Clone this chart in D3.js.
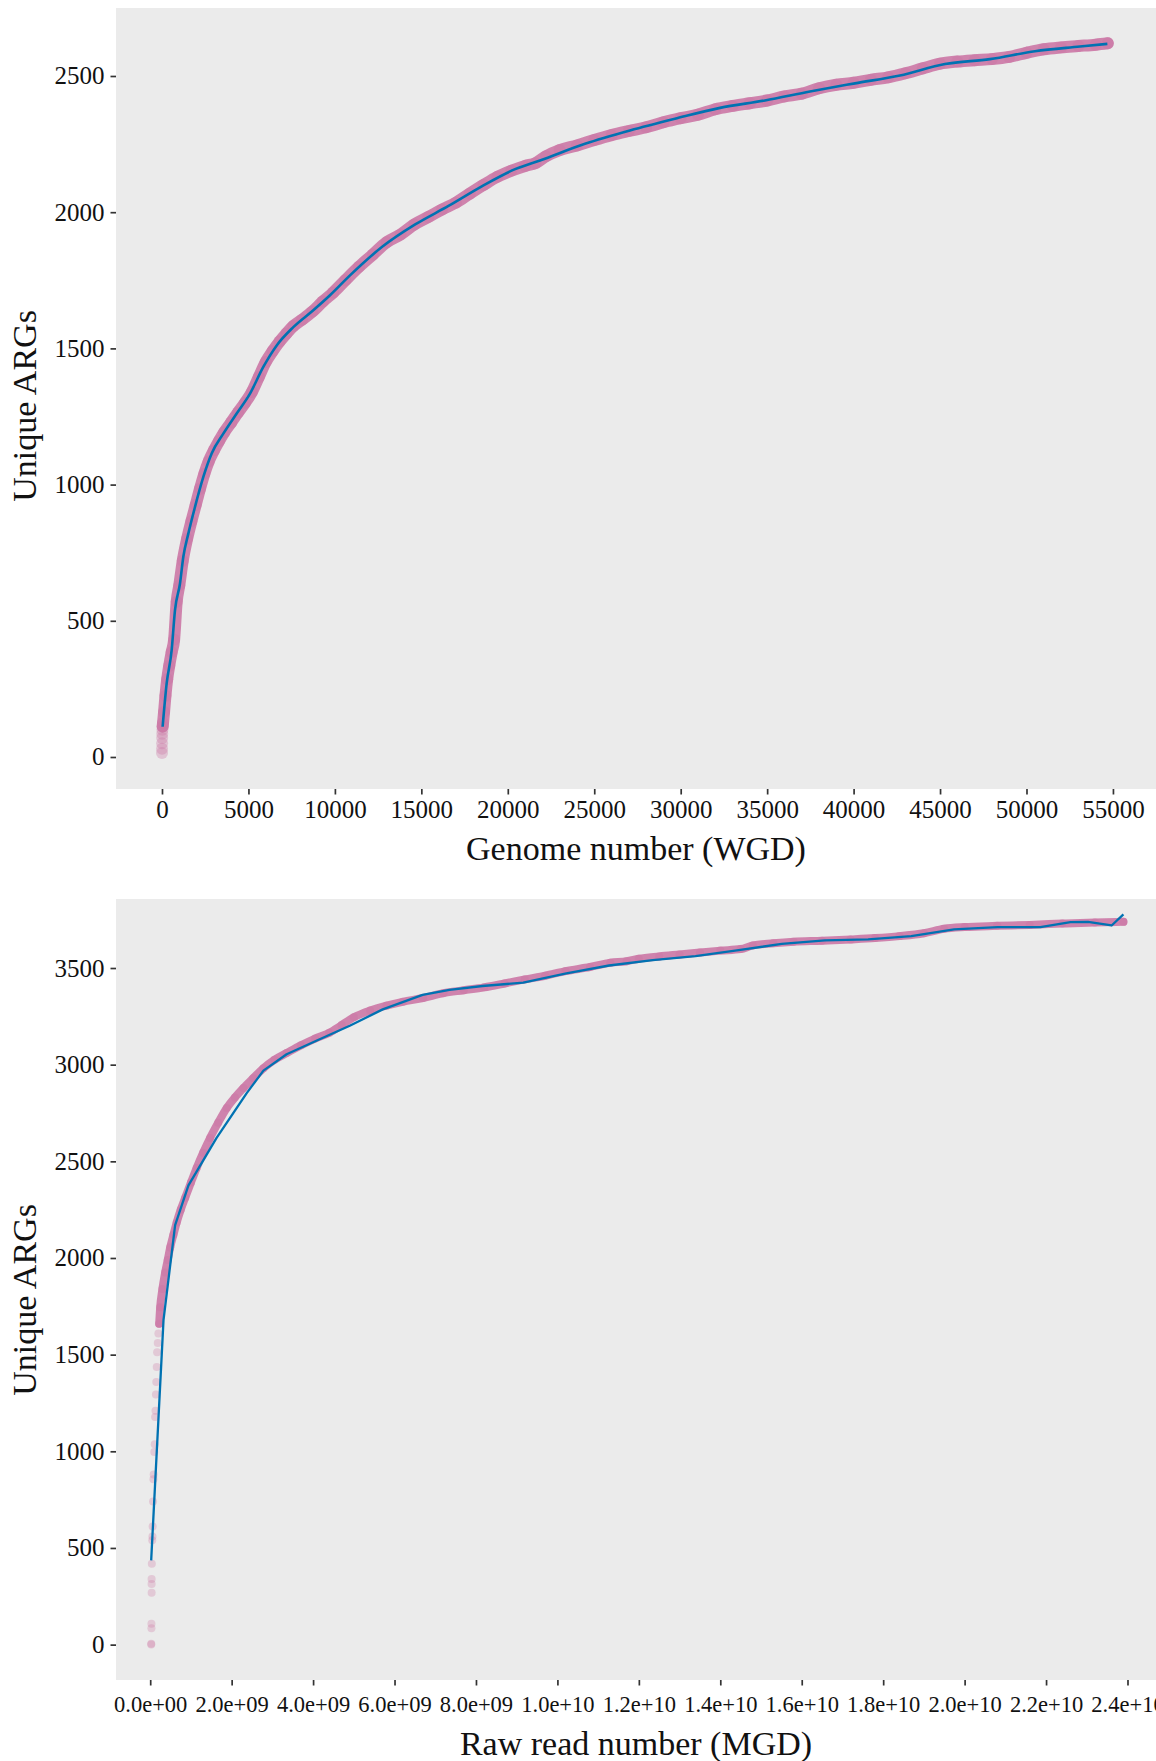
<!DOCTYPE html>
<html>
<head>
<meta charset="utf-8">
<script src="https://cdn.jsdelivr.net/npm/d3@7/dist/d3.min.js"></script>
<style>
  body { margin: 0; background: #fff; }
  svg text { font-family: "Liberation Serif", "Times New Roman", serif; fill: #111; }
</style>
</head>
<body>
<script>
// ---- top panel: genome number (WGD) ----
var wgdStartGenomes = [1, 3, 6, 10, 15, 25];
var wgdStartArgs = [15, 30, 50, 70, 85, 100];

var wgdGenomes = [40, 60, 120, 200, 300, 420, 560, 700, 850, 1000, 1200, 1450, 1700, 1950, 2200, 2450, 2700, 3000, 3300, 3600,
  4000, 4400, 4800, 5200, 5600, 6000, 6400, 6800, 7200, 7600, 8100, 8700, 9300, 9900, 10600, 11400, 12200, 13000, 13800, 14600,
  15400, 16200, 17000, 17800, 18600, 19400, 20200, 21000, 21600, 22200, 23000, 24000, 25000, 26000, 27000, 28000, 29000, 30000,
  31000, 32000, 33000, 34000, 35000, 36000, 37000, 38000, 39000, 40000, 41000, 42000, 43000, 44000, 45000, 46000, 47000, 48000,
  49000, 50000, 51000, 52000, 53000, 54000, 54700];
var wgdArgs = [112, 125, 165, 225, 285, 335, 385, 430, 570, 630, 720, 800, 865, 925, 985, 1040, 1085, 1125, 1160, 1192,
  1228, 1265, 1300, 1340, 1395, 1450, 1490, 1525, 1555, 1582, 1605, 1635, 1672, 1705, 1750, 1800, 1845, 1890, 1918, 1955,
  1982, 2010, 2035, 2068, 2100, 2130, 2152, 2170, 2180, 2205, 2228, 2245, 2265, 2283, 2298, 2312, 2330, 2345,
  2358, 2378, 2390, 2400, 2410, 2425, 2435, 2455, 2468, 2475, 2486, 2495, 2510, 2528, 2545, 2553, 2558, 2562,
  2570, 2585, 2598, 2605, 2610, 2615, 2620];

// fitted curve (blue)
var wgdFitGenomes = [37, 270, 559, 752, 1041, 1234, 1523, 1909, 2391, 2873, 3546, 4320, 5090, 5860, 6635, 7595, 8751, 9717, 10873, 12717,
  14644, 16570, 18497, 20424, 21862, 24465, 27068, 29670, 32273, 34876, 37478, 40081, 42684, 45286, 47889, 50491, 53094, 54677];
var wgdFitArgs = [111, 270, 392, 539, 637, 735, 820, 918, 1028, 1114, 1187, 1261, 1334, 1432, 1511, 1578, 1640, 1695, 1768, 1872,
  1955, 2023, 2095, 2158, 2190, 2251, 2300, 2343, 2383, 2410, 2443, 2473, 2502, 2544, 2562, 2591, 2608, 2618];

var wgdTicks = [0, 5000, 10000, 15000, 20000, 25000, 30000, 35000, 40000, 45000, 50000, 55000];
var wgdYTicks = [0, 500, 1000, 1500, 2000, 2500];

// ---- bottom panel: raw read number (MGD) ----
var mgdSparseReads = [2.5e7, 2.5e7, 3.0e7, 3.0e7, 3.5e7, 3.5e7, 3.5e7, 4.0e7, 5.0e7, 5.5e7, 6.0e7, 7.0e7,
  8.0e7, 8.5e7, 1.0e8, 1.1e8, 1.2e8, 1.3e8, 1.4e8, 1.5e8, 1.6e8, 1.7e8, 1.85e8, 2.0e8];
var mgdSparseArgs = [0, 5, 85, 108, 268, 314, 340, 418, 540, 559, 611, 740,
  856, 880, 997, 1036, 1178, 1210, 1294, 1358, 1436, 1513, 1560, 1610];

var mgdReads = [2.2e8, 2.45e8, 3.0e8, 3.67e8, 4.3e8, 4.9e8, 5.7e8, 6.5e8, 7.5e8, 8.6e8,
  1.0e9, 1.14e9, 1.3e9, 1.47e9, 1.67e9, 1.88e9, 2.08e9, 2.29e9, 2.53e9, 2.78e9,
  3.05e9, 3.35e9, 3.7e9, 4.05e9, 4.4e9, 4.7e9, 5.0e9, 5.4e9, 5.8e9, 6.2e9,
  6.7e9, 7.2e9, 7.7e9, 8.2e9, 8.7e9, 9.2e9, 9.7e9, 1.02e10, 1.08e10, 1.13e10,
  1.17e10, 1.2e10, 1.25e10, 1.3e10, 1.35e10, 1.4e10, 1.45e10, 1.48e10, 1.53e10, 1.58e10,
  1.65e10, 1.72e10, 1.78e10, 1.84e10, 1.9e10, 1.95e10, 2.0e10, 2.08e10, 2.16e10, 2.24e10,
  2.32e10, 2.39e10];
var mgdArgs = [1660, 1745, 1840, 1925, 1990, 2054, 2120, 2183, 2250, 2312,
  2390, 2466, 2545, 2621, 2700, 2776, 2830, 2879, 2930, 2982,
  3025, 3060, 3100, 3135, 3165, 3205, 3245, 3280, 3305, 3325,
  3345, 3370, 3385, 3400, 3420, 3441, 3460, 3484, 3505, 3527,
  3535, 3548, 3560, 3570, 3580, 3590, 3598, 3617, 3628, 3636,
  3641, 3648, 3655, 3665, 3680, 3703, 3712, 3718, 3723, 3730,
  3736, 3739];

var mgdFitReads = [2.4e7, 3.27e8, 6.12e8, 9.39e8, 1.63e9, 2.37e9, 2.78e9, 3.35e9, 4.08e9, 4.9e9,
  5.71e9, 6.69e9, 7.35e9, 8.16e9, 9.16e9, 1.022e10, 1.127e10, 1.234e10, 1.339e10, 1.445e10,
  1.551e10, 1.657e10, 1.763e10, 1.869e10, 1.974e10, 2.081e10, 2.186e10, 2.26e10, 2.303e10, 2.361e10, 2.39e10];
var mgdFitArgs = [436, 1680, 2170, 2376, 2621, 2853, 2969, 3054, 3124, 3201,
  3286, 3361, 3387, 3407, 3424, 3472, 3513, 3541, 3561, 3592,
  3625, 3643, 3648, 3665, 3700, 3711, 3711, 3737, 3739, 3720, 3777];

var mgdTicks = [0, 2e9, 4e9, 6e9, 8e9, 1e10, 1.2e10, 1.4e10, 1.6e10, 1.8e10, 2e10, 2.2e10, 2.4e10];
var mgdTickLabels = ["0.0e+00", "2.0e+09", "4.0e+09", "6.0e+09", "8.0e+09", "1.0e+10", "1.2e+10",
  "1.4e+10", "1.6e+10", "1.8e+10", "2.0e+10", "2.2e+10", "2.4e+10"];
var mgdYTicks = [0, 500, 1000, 1500, 2000, 2500, 3000, 3500];

var breedte = 1156, hoogte = 1761;
var links = 116, rechts = 1156;
var roze = "#CC79A7", blauw = "#0072B2";

var svg = d3.select("body").append("svg")
    .attr("width", breedte)
    .attr("height", hoogte);

function tekenPaneel(p) {
  var x = d3.scaleLinear().domain(p.xDomein).range([links, rechts]);
  var y = d3.scaleLinear().domain(p.yDomein).range([p.onder, p.boven]);

  var g = svg.append("g");

  // grey panel
  g.append("rect")
      .attr("x", links).attr("y", p.boven)
      .attr("width", rechts - links).attr("height", p.onder - p.boven)
      .attr("fill", "#ebebeb");

  svg.append("clipPath").attr("id", p.id)
    .append("rect")
      .attr("x", links).attr("y", p.boven)
      .attr("width", rechts - links).attr("height", p.onder - p.boven);

  var plot = g.append("g").attr("clip-path", "url(#" + p.id + ")");

  // loose points at the start
  plot.selectAll(".los")
      .data(d3.zip(p.losX, p.losY))
      .enter().append("circle")
      .attr("cx", function(d) { return x(d[0]); })
      .attr("cy", function(d) { return y(d[1]); })
      .attr("r", p.straal)
      .attr("fill", roze)
      .attr("opacity", p.losAlpha);

  // dense points: band plus the circles themselves
  var punten = d3.zip(p.puntX, p.puntY);
  var lijn = d3.line()
      .x(function(d) { return x(d[0]); })
      .y(function(d) { return y(d[1]); });

  plot.append("path")
      .datum(punten)
      .attr("d", lijn.curve(d3.curveMonotoneX))
      .attr("fill", "none")
      .attr("stroke", roze)
      .attr("stroke-width", p.straal * 2)
      .attr("stroke-linejoin", "round")
      .attr("stroke-linecap", "round")
      .attr("opacity", 0.92);

  plot.selectAll(".punt")
      .data(punten)
      .enter().append("circle")
      .attr("cx", function(d) { return x(d[0]); })
      .attr("cy", function(d) { return y(d[1]); })
      .attr("r", p.straal)
      .attr("fill", roze)
      .attr("opacity", 0.6);

  // fitted line
  plot.append("path")
      .datum(d3.zip(p.fitX, p.fitY))
      .attr("d", lijn.curve(p.kromme))
      .attr("fill", "none")
      .attr("stroke", blauw)
      .attr("stroke-width", p.lijnDikte)
      .attr("stroke-linejoin", "round");

  // x axis
  var asX = d3.axisBottom(x)
      .tickValues(p.xTicks)
      .tickSize(5.5)
      .tickPadding(p.xPad)
      .tickFormat(p.xFormat);

  var gx = g.append("g")
      .attr("transform", "translate(0," + p.onder + ")")
      .call(asX);
  gx.select(".domain").remove();
  gx.selectAll("line").attr("stroke", "#333").attr("stroke-width", 1.7);
  gx.selectAll("text").attr("font-size", p.xFont + "px").attr("fill", "#111")
      .attr("font-family", "Liberation Serif, Times New Roman, serif");

  // y axis
  var asY = d3.axisLeft(y)
      .tickValues(p.yTicks)
      .tickSize(5.5)
      .tickPadding(6)
      .tickFormat(d3.format("d"));

  var gy = g.append("g")
      .attr("transform", "translate(" + links + ",0)")
      .call(asY);
  gy.select(".domain").remove();
  gy.selectAll("line").attr("stroke", "#333").attr("stroke-width", 1.7);
  gy.selectAll("text").attr("font-size", "25px").attr("fill", "#111")
      .attr("font-family", "Liberation Serif, Times New Roman, serif");

  // titles
  g.append("text")
      .attr("x", (links + rechts) / 2)
      .attr("y", p.xTitelY)
      .attr("text-anchor", "middle")
      .attr("font-size", "34px")
      .text(p.xTitel);

  g.append("text")
      .attr("transform", "translate(36," + p.yTitelY + ") rotate(-90)")
      .attr("text-anchor", "middle")
      .attr("font-size", "34px")
      .text("Unique ARGs");
}

tekenPaneel({
  id: "clipBoven",
  boven: 8, onder: 789,
  xDomein: [-2660, 57490], yDomein: [-117.5, 2749.6],
  losX: wgdStartGenomes, losY: wgdStartArgs, losAlpha: 0.35,
  puntX: wgdGenomes, puntY: wgdArgs,
  fitX: wgdFitGenomes, fitY: wgdFitArgs,
  kromme: d3.curveMonotoneX,
  straal: 6, lijnDikte: 2.6,
  xTicks: wgdTicks, xFormat: d3.format("d"), xFont: 25, xPad: 5.7,
  yTicks: wgdYTicks,
  xTitel: "Genome number (WGD)", xTitelY: 860, yTitelY: 406
});

tekenPaneel({
  id: "clipOnder",
  boven: 899, onder: 1680,
  xDomein: [-8.4e8, 2.470e10], yDomein: [-183, 3857],
  losX: mgdSparseReads, losY: mgdSparseArgs, losAlpha: 0.3,
  puntX: mgdReads, puntY: mgdArgs,
  fitX: mgdFitReads, fitY: mgdFitArgs,
  kromme: d3.curveLinear,
  straal: 4, lijnDikte: 2.3,
  xTicks: mgdTicks, xFormat: function(d, i) { return mgdTickLabels[i]; }, xFont: 22.5, xPad: 10.2,
  yTicks: mgdYTicks,
  xTitel: "Raw read number (MGD)", xTitelY: 1755, yTitelY: 1300
});
</script>
</body>
</html>
